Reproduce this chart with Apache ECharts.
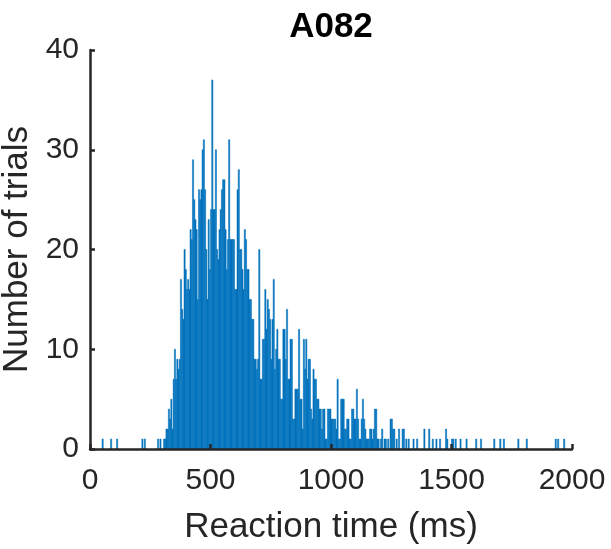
<!DOCTYPE html>
<html>
<head>
<meta charset="utf-8">
<script src="https://cdn.jsdelivr.net/npm/echarts@6/dist/echarts.min.js"></script>
<style>html,body{margin:0;padding:0;background:#fff;}#c{width:611px;height:549px;}</style>
</head>
<body>
<div id="c"></div>
<script>
const title = 'A082';
const xName = 'Reaction time (ms)';
const yName = 'Number of trials';
const binWidth = 5;
const xTicks = [0, 500, 1000, 1500, 2000];
const yTicks = [0, 10, 20, 30, 40];
const binStartMs = [
  50, 85, 110, 215, 225, 280, 290, 305, 310,
  315, 320, 325, 330, 335, 340, 345, 350, 355, 360, 365, 370, 375, 380, 385, 390, 395,
  400, 405, 410, 415, 420, 425, 430, 435, 440, 445, 450, 455, 460, 465, 470, 475, 480, 485, 490, 495,
  500, 505, 510, 515, 520, 525, 530, 535, 540, 545, 550, 555, 560, 565, 570, 575, 580, 585, 590, 595,
  600, 605, 610, 615, 620, 625, 630, 635, 640, 645, 650, 655, 660, 665, 670, 675, 680, 685, 690, 695,
  700, 705, 710, 715, 720, 725, 730, 735, 740, 745, 750, 755, 760, 765, 770, 775, 780, 785, 790, 795,
  800, 805, 810, 815, 820, 825, 830, 835, 840, 845, 850, 855, 860, 865, 870, 875, 880, 885, 890, 895,
  900, 905, 910, 915, 920, 925, 930, 935, 940, 945, 950, 955, 960, 965, 970, 975, 980, 985, 990, 995,
  1000, 1005, 1010, 1015, 1020, 1025, 1030, 1035, 1040, 1045, 1050, 1055, 1060, 1065, 1070, 1075, 1080, 1085, 1090, 1095,
  1100, 1105, 1110, 1115, 1120, 1125, 1130, 1135, 1140, 1145, 1150, 1155, 1160, 1165, 1170, 1175, 1180, 1185, 1190, 1195,
  1205, 1210, 1220, 1225, 1235, 1245, 1250, 1255, 1260, 1270, 1280, 1295,
  1300, 1310, 1320, 1340, 1355, 1385, 1405, 1420, 1435, 1450, 1475, 1480,
  1500, 1505, 1515, 1535, 1560, 1600, 1620, 1675, 1700, 1715, 1775, 1810, 1930, 1940, 1965
];
const trialCounts = [
  1, 1, 1, 1, 1, 1, 1, 1, 1,
  2, 2, 4, 3, 5, 2, 7, 10, 7, 9, 8, 9, 17, 14, 13, 20, 18,
  16, 17, 16, 22, 21, 29, 25, 23, 22, 15, 26, 25, 26, 30, 31, 26, 20, 15, 23, 18,
  24, 37, 24, 24, 30, 20, 19, 22, 24, 26, 27, 27, 22, 18, 21, 31, 21, 21, 21, 21,
  16, 16, 26, 28, 20, 20, 18, 16, 22, 21, 18, 18, 15, 15, 13, 13, 9, 9, 8, 9,
  20, 7, 7, 11, 11, 16, 12, 15, 14, 13, 9, 13, 17, 8, 10, 12, 9, 9, 5, 5,
  12, 12, 9, 14, 7, 7, 11, 11, 3, 3, 6, 6, 6, 12, 5, 5, 2, 11, 8, 11,
  7, 9, 9, 4, 3, 8, 7, 7, 5, 5, 4, 4, 2, 4, 4, 1, 1, 4, 4, 4,
  3, 3, 3, 3, 2, 7, 1, 1, 5, 5, 5, 2, 2, 3, 3, 1, 1, 4, 4, 3,
  3, 6, 3, 1, 1, 3, 5, 3, 2, 1, 1, 1, 2, 2, 1, 2, 4, 4, 1, 1,
  1, 2, 1, 1, 1, 3, 3, 2, 2, 1, 2, 2,
  2, 1, 1, 1, 1, 2, 2, 1, 1, 1, 2, 1,
  1, 1, 1, 1, 1, 1, 1, 1, 1, 1, 1, 1, 1, 1, 1
];

const data = binStartMs.map((s, i) => [s, trialCounts[i]]);
const txt = '#262626';
const font = '"Liberation Sans", Arial, Helvetica, sans-serif';
const chart = echarts.init(document.getElementById('c'), null, {renderer: 'canvas'});
chart.setOption({
  animation: false,
  backgroundColor: '#ffffff',
  title: {
    text: title, left: 326, top: 5, textAlign: 'center',
    textStyle: {fontFamily: font, fontWeight: 'bold', fontSize: 35, color: '#000'}
  },
  grid: {left: 90, right: 39, top: 50, bottom: 100, containLabel: false, outerBoundsMode: 'none'},
  xAxis: {
    type: 'value', min: xTicks[0], max: xTicks[xTicks.length - 1], interval: 500, z: 10,
    name: xName, nameLocation: 'middle', nameGap: 61,
    nameTextStyle: {fontFamily: font, fontSize: 35, color: txt},
    axisLine: {show: true, lineStyle: {color: txt, width: 2.5}},
    axisTick: {show: true, inside: true, length: 5, lineStyle: {color: txt, width: 2.5}},
    axisLabel: {fontFamily: font, fontSize: 30, color: txt, margin: 17, formatter: function (v) { return String(v); }},
    splitLine: {show: false}
  },
  yAxis: {
    type: 'value', min: yTicks[0], max: yTicks[yTicks.length - 1], interval: 10, z: 10,
    name: yName, nameLocation: 'middle', nameGap: 55, nameRotate: 90,
    nameTextStyle: {fontFamily: font, fontSize: 35, color: txt},
    axisLine: {show: true, lineStyle: {color: txt, width: 2.5}},
    axisTick: {show: true, inside: true, length: 5, lineStyle: {color: txt, width: 2.5}},
    axisLabel: {fontFamily: font, fontSize: 30, color: txt, margin: 11, formatter: function (v) { return String(v); }},
    splitLine: {show: false}
  },
  series: [{
    type: 'custom',
    data: data,
    clip: true,
    renderItem: function (params, api) {
      const s = api.value(0), c = api.value(1);
      const p0 = api.coord([s, c]);
      const p1 = api.coord([s + binWidth, 0]);
      return {
        type: 'rect',
        shape: {x: p0[0], y: p0[1], width: p1[0] - p0[0], height: p1[1] - p0[1]},
        style: {fill: '#0072BD', stroke: '#0072BD', lineWidth: 0.5}
      };
    }
  }]
});
</script>
</body>
</html>
